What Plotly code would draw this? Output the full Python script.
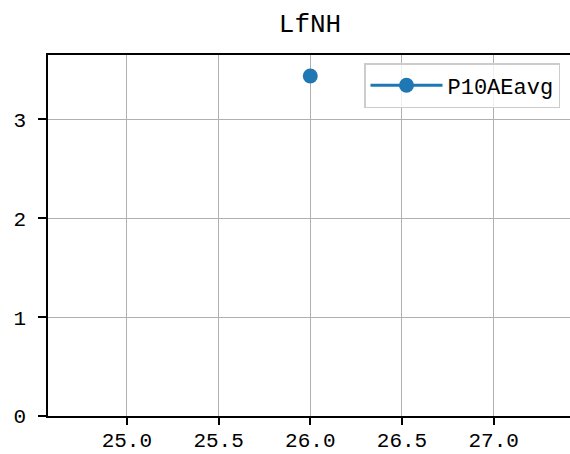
import plotly.graph_objects as go

x_vals = [26.0]
y_vals = [3.44]
series_name = "P10AEavg"
title_text = "LfNH"
x_ticks = [25.0, 25.5, 26.0, 26.5, 27.0]
x_ticklabels = ["25.0", "25.5", "26.0", "26.5", "27.0"]
y_ticks = [0, 1, 2, 3]

FONT = "Liberation Mono, DejaVu Sans Mono, monospace"
BLUE = "#1f77b4"

fig = go.Figure()
fig.add_trace(go.Scatter(
    x=x_vals, y=y_vals, mode="lines+markers", name=series_name,
    line=dict(color=BLUE, width=3),
    marker=dict(color=BLUE, size=15),
))

fig.update_layout(
    width=570, height=454,
    margin=dict(l=48, r=0, t=55, b=38, autoexpand=False),
    paper_bgcolor="white", plot_bgcolor="white",
    font=dict(family=FONT, size=21, color="black"),
    title=dict(text=title_text, x=310 / 570, xref="container", xanchor="center",
               y=1 - 23 / 454, yref="container", yanchor="middle",
               font=dict(family=FONT, size=26, color="black")),
    showlegend=True,
    legend=dict(
        x=(560 - 48) / 522, y=1 - 8 / 361, xanchor="right", yanchor="top",
        bgcolor="rgba(255,255,255,0.8)", bordercolor="#cccccc", borderwidth=1.5,
        font=dict(family=FONT, size=22, color="black"),
        itemwidth=72,
    ),
)

fig.update_xaxes(
    range=[24.57, 27.416], tickvals=x_ticks, ticktext=x_ticklabels,
    showgrid=True, gridcolor="#b0b0b0", gridwidth=1.2,
    showline=True, linecolor="black", linewidth=1.5, mirror=True,
    ticks="outside", ticklen=7, tickwidth=1.5, tickcolor="black",
    ticklabelstandoff=-3,
    tickfont=dict(family=FONT, size=21, color="black"),
    zeroline=False,
)
fig.update_yaxes(
    range=[0, 3.652], tickvals=y_ticks,
    showgrid=True, gridcolor="#b0b0b0", gridwidth=1.2,
    showline=True, linecolor="black", linewidth=1.5, mirror=True,
    ticks="outside", ticklen=8, tickwidth=1.5, tickcolor="black",
    ticklabelstandoff=8,
    zeroline=False,
)

fig.write_html(
    "out.html",
    config={"displayModeBar": False},
    post_script="document.body.style.margin='0';document.body.style.overflow='hidden';",
)
